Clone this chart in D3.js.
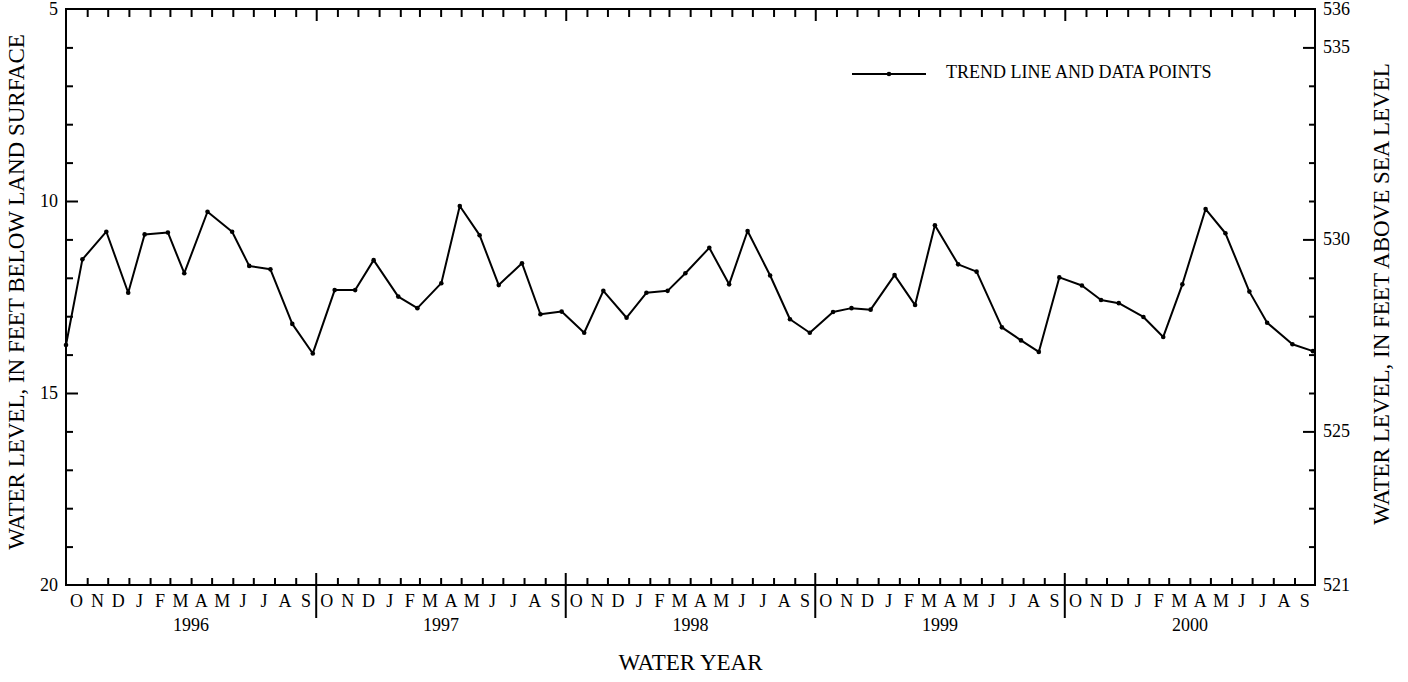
<!DOCTYPE html>
<html>
<head>
<meta charset="utf-8">
<script src="https://cdn.jsdelivr.net/npm/d3@7"></script>
<style>
  html, body { margin: 0; padding: 0; background: #fff; }
  svg { display: block; }
  text { font-family: "Liberation Serif", "Times New Roman", serif; fill: #000; }
</style>
</head>
<body>
<svg id="chart" width="1408" height="682"></svg>
<script>
// ---- data ----
const sampleDates = [
  "1995-10-01","1995-10-25","1995-11-29","1995-12-31","1996-01-24","1996-02-27","1996-03-22","1996-04-25",
  "1996-05-31","1996-06-25","1996-07-26","1996-08-27","1996-09-26","1996-10-28","1996-11-27","1996-12-24",
  "1997-01-29","1997-02-26","1997-04-02","1997-04-29","1997-05-28","1997-06-25","1997-07-29","1997-08-25",
  "1997-09-25","1997-10-28","1997-11-25","1997-12-29","1998-01-27","1998-02-27","1998-03-25","1998-04-29",
  "1998-05-28","1998-06-24","1998-07-27","1998-08-25","1998-09-23","1998-10-27","1998-11-23","1998-12-21",
  "1999-01-25","1999-02-24","1999-03-25","1999-04-28","1999-05-25","1999-07-01","1999-07-29","1999-08-24",
  "1999-09-23","1999-10-26","1999-11-23","1999-12-19","2000-01-24","2000-02-22","2000-03-21","2000-04-24",
  "2000-05-23","2000-06-27","2000-07-23","2000-08-29","2000-09-28"
];
const depthBelowSurface = [
  13.75, 11.52, 10.80, 12.39, 10.87, 10.82, 11.88, 10.28,
  10.80, 11.69, 11.78, 13.20, 13.97, 12.32, 12.32, 11.54,
  12.49, 12.79, 12.14, 10.13, 10.89, 12.19, 11.62, 12.95,
  12.88, 13.43, 12.34, 13.04, 12.39, 12.34, 11.88, 11.22,
  12.17, 10.78, 11.94, 13.08, 13.43, 12.89, 12.79, 12.83,
  11.93, 12.71, 10.63, 11.65, 11.84, 13.29, 13.63, 13.93,
  11.99, 12.20, 12.58, 12.66, 13.02, 13.54, 12.17, 10.21,
  10.84, 12.36, 13.17, 13.73, 13.91
];
const monthLetters = ["O","N","D","J","F","M","A","M","J","J","A","S"];
const waterYears = [1996, 1997, 1998, 1999, 2000];
const leftTickLabels = [5, 10, 15, 20];
const rightTickLabels = [536, 535, 530, 525, 521];
const landSurfaceElevation = 541; // elevation = 541 - depth
const legendLabel = "TREND LINE AND DATA POINTS";
const leftTitle = "WATER LEVEL, IN FEET BELOW LAND SURFACE";
const rightTitle = "WATER LEVEL, IN FEET ABOVE SEA LEVEL";
const xTitle = "WATER YEAR";

// ---- layout ----
const svg = d3.select("#chart");
const L = 66, R = 1315, T = 9, B = 585;
const parse = d3.timeParse("%Y-%m-%d");
const start = new Date(1995, 9, 1), end = new Date(2000, 9, 1);

const x = d3.scaleTime().domain([start, end]).range([L, R]);
const yL = d3.scaleLinear().domain([5, 20]).range([T, B]);
const yR = d3.scaleLinear().domain([landSurfaceElevation - 5, landSurfaceElevation - 20]).range([T, B]);

const data = sampleDates.map((d, i) => ({ date: parse(d), depth: depthBelowSurface[i] }));

const months = d3.timeMonth.range(start, end);
const monthInner = months.filter(m => m.getMonth() !== 9);
const yearStarts = waterYears.slice(0, -1).map(y => new Date(y, 9, 1));

const ink = "#000";

// bottom month ticks (inward)
svg.append("g").attr("transform", `translate(0,${B})`)
  .call(d3.axisBottom(x).tickValues(monthInner).tickSizeInner(-7).tickSizeOuter(0).tickFormat(""))
  .call(g => g.select(".domain").remove())
  .selectAll("line").attr("stroke", ink).attr("stroke-width", 2);
// top month ticks (inward)
svg.append("g").attr("transform", `translate(0,${T})`)
  .call(d3.axisTop(x).tickValues(monthInner).tickSizeInner(-8).tickSizeOuter(0).tickFormat(""))
  .call(g => g.select(".domain").remove())
  .selectAll("line").attr("stroke", ink).attr("stroke-width", 2);
// top year-boundary ticks
svg.append("g").attr("transform", `translate(0,${T})`)
  .call(d3.axisTop(x).tickValues(yearStarts).tickSizeInner(-12).tickSizeOuter(0).tickFormat(""))
  .call(g => g.select(".domain").remove())
  .selectAll("line").attr("stroke", ink).attr("stroke-width", 2);
// bottom year-boundary separators (cross the axis)
svg.append("g").selectAll("line").data(yearStarts).join("line")
  .attr("x1", d => x(d)).attr("x2", d => x(d))
  .attr("y1", B - 12).attr("y2", B + 33)
  .attr("stroke", ink).attr("stroke-width", 2);

// month letters
const monthMid = months.map(m => ({ m, mid: new Date((m.getTime() + d3.timeMonth.offset(m, 1).getTime()) / 2) }));
svg.append("g").selectAll("text").data(monthMid).join("text")
  .attr("x", d => x(d.mid)).attr("y", B + 22)
  .attr("text-anchor", "middle").attr("font-size", 18)
  .text(d => monthLetters[(d.m.getMonth() + 3) % 12]);

// year labels
svg.append("g").selectAll("text").data(waterYears).join("text")
  .attr("x", d => (x(new Date(d - 1, 9, 1)) + x(new Date(d, 9, 1))) / 2)
  .attr("y", B + 46)
  .attr("text-anchor", "middle").attr("font-size", 18)
  .text(d => d);

// left axis
svg.append("g").attr("transform", `translate(${L},0)`)
  .call(d3.axisLeft(yL).tickValues(d3.range(6, 20).filter(v => v % 5 !== 0)).tickSizeInner(-7).tickSizeOuter(0).tickFormat(""))
  .call(g => g.select(".domain").remove())
  .selectAll("line").attr("stroke", ink).attr("stroke-width", 2);
svg.append("g").attr("transform", `translate(${L},0)`)
  .call(d3.axisLeft(yL).tickValues([10, 15]).tickSizeInner(-12).tickSizeOuter(0).tickFormat(""))
  .call(g => g.select(".domain").remove())
  .selectAll("line").attr("stroke", ink).attr("stroke-width", 2);
svg.append("g").selectAll("text").data(leftTickLabels).join("text")
  .attr("x", L - 8).attr("y", d => yL(d)).attr("dy", "0.33em")
  .attr("text-anchor", "end").attr("font-size", 18).text(d => d);

// right axis
svg.append("g").attr("transform", `translate(${R},0)`)
  .call(d3.axisRight(yR).tickValues(d3.range(522, 536).filter(v => v % 5 !== 0)).tickSizeInner(-6).tickSizeOuter(0).tickFormat(""))
  .call(g => g.select(".domain").remove())
  .selectAll("line").attr("stroke", ink).attr("stroke-width", 2);
svg.append("g").attr("transform", `translate(${R},0)`)
  .call(d3.axisRight(yR).tickValues([535, 530, 525]).tickSizeInner(-12).tickSizeOuter(0).tickFormat(""))
  .call(g => g.select(".domain").remove())
  .selectAll("line").attr("stroke", ink).attr("stroke-width", 2);
svg.append("g").selectAll("text").data(rightTickLabels).join("text")
  .attr("x", R + 8).attr("y", d => yR(d)).attr("dy", "0.33em")
  .attr("text-anchor", "start").attr("font-size", 18).text(d => d);

// frame
svg.append("rect").attr("x", L).attr("y", T).attr("width", R - L).attr("height", B - T)
  .attr("fill", "none").attr("stroke", ink).attr("stroke-width", 2);

// data line + points
const line = d3.line().x(d => x(d.date)).y(d => yL(d.depth));
svg.append("path").datum(data).attr("d", line)
  .attr("fill", "none").attr("stroke", ink).attr("stroke-width", 2).attr("stroke-linejoin", "round");
svg.append("g").selectAll("circle").data(data).join("circle")
  .attr("cx", d => x(d.date)).attr("cy", d => yL(d.depth)).attr("r", 2.3).attr("fill", ink);

// legend
const lg = svg.append("g");
lg.append("line").attr("x1", 852).attr("x2", 926).attr("y1", 74).attr("y2", 74)
  .attr("stroke", ink).attr("stroke-width", 2);
lg.append("circle").attr("cx", 889).attr("cy", 74).attr("r", 2.3).attr("fill", ink);
lg.append("text").attr("x", 946).attr("y", 78).attr("font-size", 18).text(legendLabel);

// axis titles
svg.append("text").attr("transform", `translate(24,292) rotate(-90)`)
  .attr("text-anchor", "middle").attr("font-size", 23).text(leftTitle);
svg.append("text").attr("transform", `translate(1389,294) rotate(-90)`)
  .attr("text-anchor", "middle").attr("font-size", 23).text(rightTitle);
svg.append("text").attr("x", (L + R) / 2).attr("y", 670)
  .attr("text-anchor", "middle").attr("font-size", 23).text(xTitle);
</script>
</body>
</html>
